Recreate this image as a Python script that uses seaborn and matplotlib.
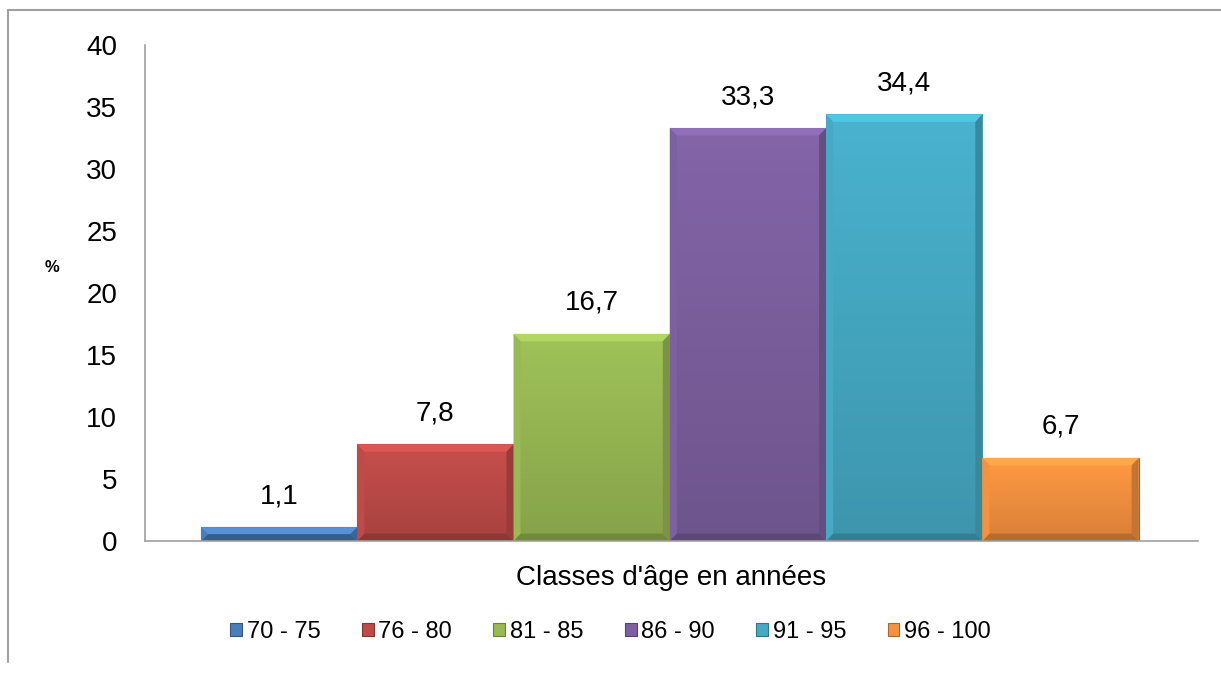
import numpy as np
import pandas as pd
import seaborn as sns
import matplotlib.pyplot as plt
from matplotlib.lines import Line2D
from matplotlib.colors import to_rgb

# Data
classes = ["70 - 75", "76 - 80", "81 - 85", "86 - 90", "91 - 95", "96 - 100"]
percent = [1.1, 7.8, 16.7, 33.3, 34.4, 6.7]
colors = ["#4A7EBB", "#BE4B48", "#98B954", "#7D60A0", "#46AAC5", "#F59240"]

df = pd.DataFrame({"classe": classes, "pct": percent})

sns.set_style("white")
plt.rcParams["font.family"] = ["Liberation Sans", "DejaVu Sans"]
plt.rcParams["text.color"] = "black"
plt.rcParams["ytick.color"] = "black"
plt.rcParams["axes.labelcolor"] = "black"

fig = plt.figure(figsize=(12.21, 6.75), dpi=100)
ax = fig.add_axes([0.1188, 0.1985, 0.862, 0.7348])

sns.barplot(data=df, x="classe", y="pct", hue="classe", palette=colors,
            width=1, legend=False, ax=ax, saturation=1)


def shade(c, f):
    return tuple(np.clip(np.array(to_rgb(c)) * f, 0, 1))


# bevel-ish shading: lighter top, darker bottom, bevelled edges
for patch, c in zip(ax.patches, colors):
    x0, y0 = patch.get_x(), patch.get_y()
    w, h = patch.get_width(), patch.get_height()
    x1, y1 = x0 + w, y0 + h
    z = patch.get_zorder()
    base = np.array(to_rgb(c))
    t = np.linspace(0, 1, 64)[:, None]
    grad = np.clip(base * (1.05 - 0.17 * t), 0, 1)[:, None, :]
    im = ax.imshow(grad, extent=(x0, x1, y0, y1), aspect="auto",
                   origin="upper", zorder=z + 0.1)
    im.set_clip_path(patch)
    bx, by = 0.045, min(0.6, h / 2)
    ax.fill([x0, x1, x1 - bx, x0 + bx], [y1, y1, y1 - by, y1 - by],
            color=shade(c, 1.16), lw=0, zorder=z + 0.2)
    ax.fill([x0, x1, x1 - bx, x0 + bx], [y0, y0, y0 + by, y0 + by],
            color=shade(c, 0.74), lw=0, zorder=z + 0.2)
    ax.fill([x0, x0 + bx, x0 + bx, x0], [y0, y0 + by, y1 - by, y1],
            color=shade(c, 1.0), lw=0, zorder=z + 0.2)
    ax.fill([x1, x1 - bx, x1 - bx, x1], [y0, y0 + by, y1 - by, y1],
            color=shade(c, 0.8), lw=0, zorder=z + 0.2)
    patch.set_edgecolor(shade(c, 0.7))
    patch.set_linewidth(0.8)

ax.set_ylim(0, 40)
ax.set_yticks(range(0, 41, 5))
ax.set_xlim(-0.858, 5.877)

for cont in ax.containers:
    ax.bar_label(cont, labels=[f"{v:.1f}".replace(".", ",") for v in cont.datavalues],
                 padding=13, fontsize=20, color="black")

ax.set_xticks([])
ax.set_ylabel("")
ax.set_xlabel("Classes d'âge en années", fontsize=20, labelpad=17)
ax.tick_params(axis="y", length=0, pad=20, labelsize=20)

for s in ["top", "right"]:
    ax.spines[s].set_visible(False)
for s in ["left", "bottom"]:
    ax.spines[s].set_color("#A0A0A0")
    ax.spines[s].set_linewidth(1.2)

fig.text(52 / 1221, 1 - 268 / 675, "%", fontsize=12, fontweight="bold",
         ha="center", va="center")

handles = [plt.Rectangle((0, 0), 1, 1, facecolor=c, edgecolor=shade(c, 0.7), lw=0.8)
           for c in colors]
fig.legend(handles, classes, loc="center", bbox_to_anchor=(0.5, 1 - 632 / 675),
           ncol=6, frameon=False, fontsize=17, handlelength=0.5, handleheight=0.5,
           handletextpad=0.2, columnspacing=1.75)

# outer chart frame (left and top)
fig.add_artist(Line2D([8 / 1221, 8 / 1221], [1 - 10 / 675, 1 - 662 / 675],
                      color="#A0A0A0", lw=1.5, transform=fig.transFigure))
fig.add_artist(Line2D([8 / 1221, 1.0], [1 - 10 / 675, 1 - 10 / 675],
                      color="#A0A0A0", lw=1.5, transform=fig.transFigure))

fig.savefig("out.png", dpi=100)
